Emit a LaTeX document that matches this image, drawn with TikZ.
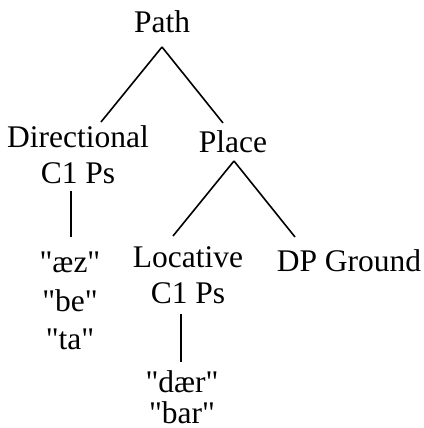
\documentclass[tikz,border=0pt]{standalone}
\usepackage{fontspec}
\newfontfamily\treefont{Liberation Serif}

\begin{document}
\begin{tikzpicture}[
    x=1pt, y=1pt,
    every node/.style={inner sep=0pt, font=\treefont\fontsize{31.5}{36}\selectfont},
    cat/.style={anchor=base, align=center},
    lex/.style={anchor=base, align=center},
    branch/.style={line width=1.6pt}
  ]
  \useasboundingbox (0,0) rectangle (423,428);

    % Categories (base = last line)
    \node[cat] (path)   at (162,395) {Path};
    \node[cat] (dir)    at (78,244)  {Directional\\C1 Ps};
    \node[cat] (place)  at (233,275) {Place};
    \node[cat] (loc)    at (188,124) {Locative\\C1 Ps};
    \node[cat] (ground) at (349,156) {DP Ground};

    % Lexical items
    \node[lex] (dirlex) at (70,78) {"æz"\\[2.5pt]"be"\\[2.5pt]"ta"};
    \node[lex] (loclex) at (182,5) {"dær"\\[-5pt]"bar"};

    % Branches
    \draw[branch] ([shift={(0,-14)}]path.base) -- ([shift={(23,62)}]dir.base);
    \draw[branch] ([shift={(0,-14)}]path.base) -- ([shift={(-10,30)}]place.base);
    \draw[branch] ([shift={(1,-8)}]place.base) -- ([shift={(-15,68)}]loc.base);
    \draw[branch] ([shift={(1,-8)}]place.base) -- ([shift={(-54,35)}]ground.base);

    % Lines down to the words
    \draw[branch] ([shift={(-7,-7)}]dir.base) -- ([shift={(1,113)}]dirlex.base);
    \draw[branch] ([shift={(-7,-10)}]loc.base) -- ([shift={(-1,61)}]loclex.base);

  \end{tikzpicture}
\end{document}
